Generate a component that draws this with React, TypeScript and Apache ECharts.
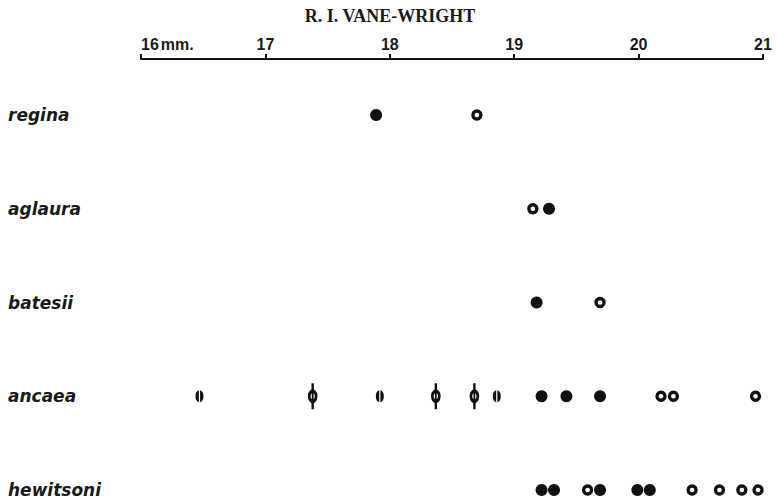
import React, { useEffect, useRef } from "react";
import * as echarts from "echarts";

const species = ["regina", "aglaura", "batesii", "ancaea", "hewitsoni"];
const tickLabels = ["16", "17", "18", "19", "20", "21"];
const unitLabel = "mm.";

const filledPoints: [number, string][] = [
  [17.89, "regina"],
  [19.28, "aglaura"],
  [19.18, "batesii"],
  [19.22, "ancaea"],
  [19.42, "ancaea"],
  [19.69, "ancaea"],
  [19.22, "hewitsoni"],
  [19.32, "hewitsoni"],
  [19.69, "hewitsoni"],
  [19.99, "hewitsoni"],
  [20.09, "hewitsoni"],
];

const openPoints: [number, string][] = [
  [18.7, "regina"],
  [19.15, "aglaura"],
  [19.69, "batesii"],
  [20.18, "ancaea"],
  [20.28, "ancaea"],
  [20.94, "ancaea"],
  [19.59, "hewitsoni"],
  [20.43, "hewitsoni"],
  [20.65, "hewitsoni"],
  [20.83, "hewitsoni"],
  [20.96, "hewitsoni"],
];

const phiPoints: [number, string][] = [
  [17.38, "ancaea"],
  [18.37, "ancaea"],
  [18.68, "ancaea"],
];

const splitPoints: [number, string][] = [
  [16.47, "ancaea"],
  [17.92, "ancaea"],
  [18.86, "ancaea"],
];

const SPLIT_PATH =
  "path://M3.4,0 C1.2,0.4 0,3 0,6 C0,9 1.2,11.6 3.4,12 Z M4.6,0 C6.8,0.4 8,3 8,6 C8,9 6.8,11.6 4.6,12 Z";

export default function App() {
  const ref = useRef<HTMLDivElement>(null);
  useEffect(() => {
    if (!ref.current) return;
    const chart = echarts.init(ref.current, null, { renderer: "svg" });
    const ink = "#111111";
    const labelFont = {
      fontFamily: "Liberation Sans",
      fontSize: 16,
      fontWeight: "bold" as const,
      color: "#1a1a1a",
    };
    chart.setOption({
      animation: false,
      backgroundColor: "#ffffff",
      title: {
        text: "R. I. VANE-WRIGHT",
        left: 385,
        textAlign: "center",
        top: 2,
        textStyle: {
          fontFamily: "Liberation Serif",
          fontSize: 18,
          fontWeight: "bold",
          color: "#1a1a1a",
        },
      },
      grid: { left: 141, right: 14, top: 115, bottom: 11 },
      xAxis: {
        type: "value",
        position: "top",
        offset: 56,
        min: 16,
        max: 21,
        interval: 1,
        splitLine: { show: false },
        axisLine: { show: true, lineStyle: { color: ink, width: 2 } },
        axisTick: { show: true, length: 5, lineStyle: { color: ink, width: 2 } },
        axisLabel: {
          margin: 7,
          ...labelFont,
          alignMinLabel: "left",
          alignMaxLabel: "center",
          formatter: (v: number) => {
            const i = Math.round(v - 16);
            const t = tickLabels[i] ?? String(v);
            return i === 0 ? `{b|${t}}{n|${unitLabel}}` : t;
          },
          rich: {
            b: { ...labelFont },
            n: { ...labelFont, padding: [0, 0, 0, 2] },
          },
        },
      },
      yAxis: {
        type: "category",
        data: species,
        inverse: true,
        boundaryGap: false,
        axisLine: { show: false },
        axisTick: { show: false },
        splitLine: { show: false },
        axisLabel: {
          align: "left",
          margin: 133,
          fontFamily: "DejaVu Sans",
          fontStyle: "italic",
          fontWeight: "bold",
          fontSize: 17,
          color: "#1a1a1a",
        },
      },
      series: [
        {
          type: "scatter",
          data: filledPoints,
          symbol: "circle",
          symbolSize: 12,
          itemStyle: { color: ink, opacity: 1 },
          z: 3,
        },
        {
          type: "scatter",
          data: openPoints,
          symbol: "circle",
          symbolSize: 8,
          itemStyle: { color: "#fff", borderColor: ink, borderWidth: 3.4, opacity: 1 },
          z: 3,
        },
        {
          type: "scatter",
          data: phiPoints,
          symbol: "rect",
          symbolSize: [2.4, 26],
          itemStyle: { color: ink, opacity: 1 },
          z: 2,
        },
        {
          type: "scatter",
          data: phiPoints,
          symbol: "circle",
          symbolSize: [7, 10],
          itemStyle: { color: "#fff", borderColor: ink, borderWidth: 3.2, opacity: 1 },
          z: 3,
        },
        {
          type: "scatter",
          data: phiPoints,
          symbol: "rect",
          symbolSize: [1.8, 10],
          itemStyle: { color: ink, opacity: 1 },
          z: 4,
        },
        {
          type: "scatter",
          data: splitPoints,
          symbol: SPLIT_PATH,
          symbolSize: [8, 12],
          symbolKeepAspect: false,
          itemStyle: { color: ink, opacity: 1 },
          z: 3,
        },
      ],
    });
    return () => chart.dispose();
  }, []);
  return (
    <div
      ref={ref}
      style={{ position: "absolute", left: 0, top: 0, width: 777, height: 501 }}
    />
  );
}
